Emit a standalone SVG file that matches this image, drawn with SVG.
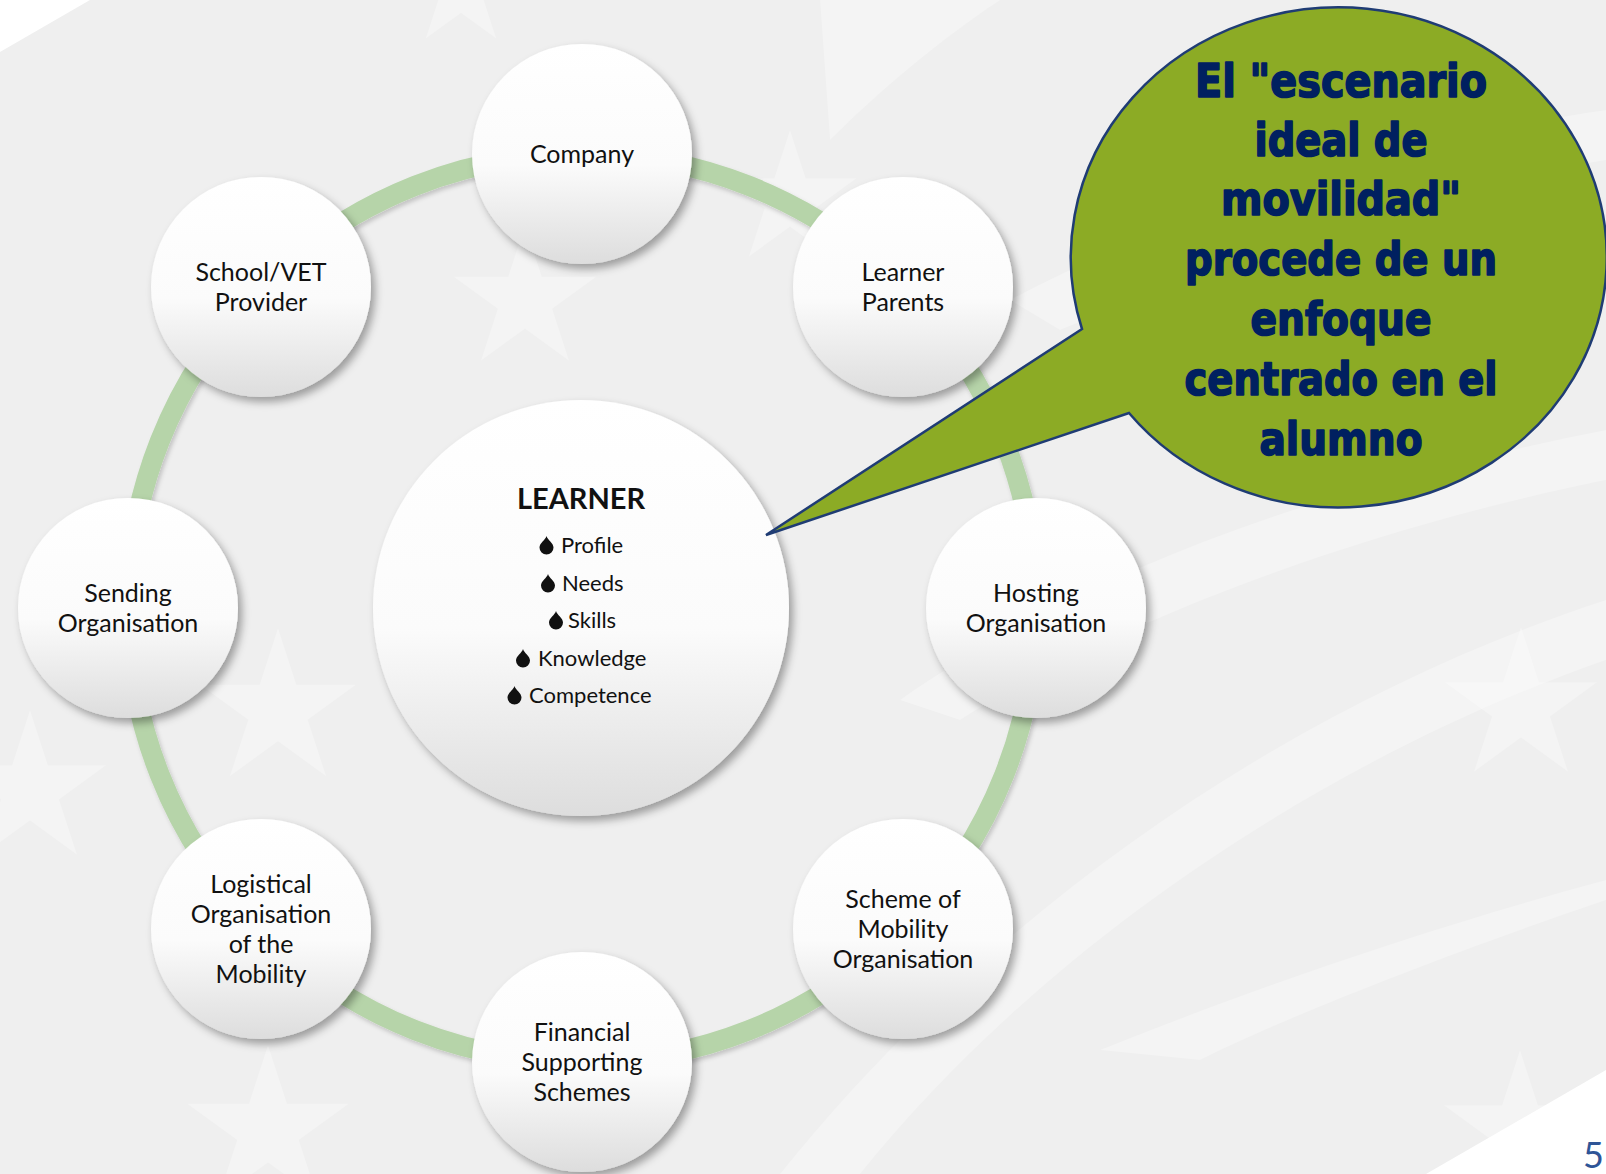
<svg xmlns="http://www.w3.org/2000/svg" width="1606" height="1174" viewBox="0 0 1606 1174">
<defs>
<style>
.lbl{font-family:Lato,"Open Sans","Liberation Sans",sans-serif;font-size:25px;fill:#111;text-anchor:middle}
.bul{font-family:Lato,"Open Sans","Liberation Sans",sans-serif;font-size:22px;fill:#111;text-anchor:start}
.title{font-family:Lato,"Open Sans","Liberation Sans",sans-serif;font-size:29px;font-weight:bold;fill:#111;text-anchor:middle}
.bub{font-family:"DejaVu Sans Condensed","DejaVu Sans",sans-serif;font-size:47px;font-weight:bold;fill:#002060;stroke:#002060;stroke-width:1.6;stroke-linejoin:round;text-anchor:middle}
.node{fill:url(#ng);filter:url(#sh)}
.deco{fill:#ffffff;opacity:0.3}
</style>
<linearGradient id="ng" x1="0" y1="0" x2="0" y2="1">
<stop offset="0" stop-color="#ffffff"/>
<stop offset="0.55" stop-color="#fbfbfb"/>
<stop offset="1" stop-color="#dddddd"/>
</linearGradient>
<filter id="sh" x="-20%" y="-20%" width="140%" height="140%">
<feDropShadow dx="4" dy="5" stdDeviation="4" flood-color="#000" flood-opacity="0.35"/>
</filter>
<filter id="rsh" x="-10%" y="-10%" width="120%" height="120%">
<feDropShadow dx="2" dy="3" stdDeviation="2" flood-color="#000" flood-opacity="0.18"/>
</filter>
<path id="drop" d="M0,-17 C1,-13 7,-10 7,-5.5 A7,7 0 0 1 -7,-5.5 C-7,-10 -1,-13 0,-17 Z" fill="#111"/>
<polygon id="star" points="0,-1 0.2245,-0.309 0.951,-0.309 0.3633,0.118 0.5878,0.809 0,0.382 -0.5878,0.809 -0.3633,0.118 -0.951,-0.309 -0.2245,-0.309"/>
</defs>

<!-- background -->
<rect x="0" y="0" width="1606" height="1174" fill="#efefef"/>
<g id="background-deco">
<path class="deco" d="M780,1174 C1000,900 1300,700 1606,600 L1606,660 C1320,760 1040,950 860,1174 Z"/>
<path class="deco" d="M900,700 C1100,560 1350,480 1606,430 L1606,480 C1360,530 1120,620 960,720 Z"/>
<path class="deco" d="M1010,300 C1200,200 1400,140 1606,110 L1606,160 C1420,190 1230,260 1060,330 Z"/>
<path class="deco" d="M1100,1050 C1250,990 1420,930 1606,880 L1606,900 C1430,960 1280,1020 1200,1060 Z"/>
<path class="deco" d="M820,0 L1000,0 C940,40 880,90 830,140 Z"/>
<use href="#star" class="deco" transform="translate(278,710) scale(82)"/>
<use href="#star" class="deco" transform="translate(268,1130) scale(85)"/>
<use href="#star" class="deco" transform="translate(30,790) scale(80)"/>
<use href="#star" class="deco" transform="translate(525,300) scale(75)"/>
<use href="#star" class="deco" transform="translate(461,-10) scale(60)"/>
<use href="#star" class="deco" transform="translate(1521,707) scale(80)"/>
<use href="#star" class="deco" transform="translate(1520,1130) scale(80)"/>
<use href="#star" class="deco" transform="translate(790,200) scale(70)"/>
</g>
<polygon points="0,0 90,0 0,52" fill="#ffffff"/>
<polygon points="1606,1070 1426,1174 1606,1174" fill="#ffffff"/>
<text x="1583" y="1168" font-family="Lato,'Open Sans','Liberation Sans',sans-serif" font-size="36" fill="#2f5597">5</text>

<!-- connectors -->
<g id="connectors">
<circle cx="582" cy="608" r="454" fill="none" stroke="#b6d4a9" stroke-width="20" filter="url(#rsh)"/>
</g>

<!-- nodes -->
<g id="node-company">
<circle class="node" cx="582" cy="154" r="110"/>
<text class="lbl" x="582" y="163">Company</text>
</g>
<g id="node-learner-parents">
<circle class="node" cx="903" cy="287" r="110"/>
<text class="lbl" x="903" y="281">Learner</text>
<text class="lbl" x="903" y="311">Parents</text>
</g>
<g id="node-hosting">
<circle class="node" cx="1036" cy="608" r="110"/>
<text class="lbl" x="1036" y="602">Hosting</text>
<text class="lbl" x="1036" y="632">Organisation</text>
</g>
<g id="node-scheme">
<circle class="node" cx="903" cy="929" r="110"/>
<text class="lbl" x="903" y="908">Scheme of</text>
<text class="lbl" x="903" y="938">Mobility</text>
<text class="lbl" x="903" y="968">Organisation</text>
</g>
<g id="node-financial">
<circle class="node" cx="582" cy="1062" r="110"/>
<text class="lbl" x="582" y="1041">Financial</text>
<text class="lbl" x="582" y="1071">Supporting</text>
<text class="lbl" x="582" y="1101">Schemes</text>
</g>
<g id="node-logistical">
<circle class="node" cx="261" cy="929" r="110"/>
<text class="lbl" x="261" y="893">Logistical</text>
<text class="lbl" x="261" y="923">Organisation</text>
<text class="lbl" x="261" y="953">of the</text>
<text class="lbl" x="261" y="983">Mobility</text>
</g>
<g id="node-sending">
<circle class="node" cx="128" cy="608" r="110"/>
<text class="lbl" x="128" y="602">Sending</text>
<text class="lbl" x="128" y="632">Organisation</text>
</g>
<g id="node-school">
<circle class="node" cx="261" cy="287" r="110"/>
<text class="lbl" x="261" y="281">School/VET</text>
<text class="lbl" x="261" y="311">Provider</text>
</g>

<g id="node-learner">
<circle class="node" cx="581" cy="608" r="208"/>
<text class="title" x="581" y="509">LEARNER</text>
<use href="#drop" x="546.5" y="553"/>
<text class="bul" x="561" y="553">Profile</text>
<use href="#drop" x="548" y="591"/>
<text class="bul" x="562" y="591">Needs</text>
<use href="#drop" x="556" y="628"/>
<text class="bul" x="568" y="628">Skills</text>
<use href="#drop" x="523" y="666"/>
<text class="bul" x="538" y="666">Knowledge</text>
<use href="#drop" x="514.5" y="703"/>
<text class="bul" x="529" y="703">Competence</text>
</g>

<g id="callout">
<path d="M1082,329 A268,250 0 1 1 1129,413 L766,535 Z" fill="#8cab25" stroke="#1f3c74" stroke-width="2.5" stroke-linejoin="miter"/>
<text class="bub" x="1341" y="97" textLength="292" lengthAdjust="spacingAndGlyphs">El "escenario</text>
<text class="bub" x="1341" y="156" textLength="173" lengthAdjust="spacingAndGlyphs">ideal de</text>
<text class="bub" x="1341" y="215" textLength="240" lengthAdjust="spacingAndGlyphs">movilidad"</text>
<text class="bub" x="1341" y="275" textLength="312" lengthAdjust="spacingAndGlyphs">procede de un</text>
<text class="bub" x="1341" y="335" textLength="181" lengthAdjust="spacingAndGlyphs">enfoque</text>
<text class="bub" x="1341" y="395" textLength="313" lengthAdjust="spacingAndGlyphs">centrado en el</text>
<text class="bub" x="1341" y="455" textLength="163" lengthAdjust="spacingAndGlyphs">alumno</text>
</g>
</svg>
